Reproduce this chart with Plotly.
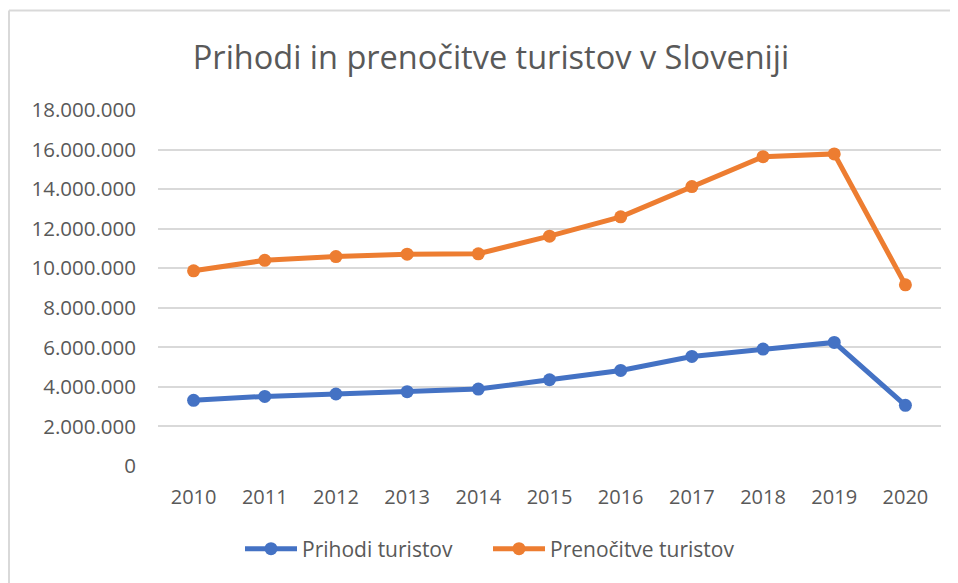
import plotly.graph_objects as go

years = ["2010", "2011", "2012", "2013", "2014", "2015", "2016", "2017", "2018", "2019", "2020"]
prihodi = [3320000, 3520000, 3640000, 3760000, 3890000, 4360000, 4830000, 5540000, 5910000, 6250000, 3070000]
prenocitve = [9870000, 10400000, 10590000, 10710000, 10730000, 11620000, 12600000, 14130000, 15640000, 15780000, 9160000]
y_ticks = [0, 2000000, 4000000, 6000000, 8000000, 10000000, 12000000, 14000000, 16000000, 18000000]
y_ticktext = [f"{v:,}".replace(",", ".") for v in y_ticks]

FONT = "Open Sans"
GRAY = "#595959"

fig = go.Figure()
fig.add_trace(go.Scatter(x=years, y=prihodi, name="Prihodi turistov", mode="lines+markers",
                         line=dict(color="#4472C4", width=5), marker=dict(size=13, color="#4472C4")))
fig.add_trace(go.Scatter(x=years, y=prenocitve, name="Prenočitve turistov", mode="lines+markers",
                         line=dict(color="#ED7D31", width=5), marker=dict(size=13, color="#ED7D31")))

OFF = 8  # page body margin
SW, SH = 958, 583
W, H = SW - OFF, SH - OFF
# plot area in screen coordinates
SL, SR, ST, SB = 158, 941, 110, 466
L, T = SL - OFF, ST - OFF
R = W - (SR - OFF)
B = H - (SB - OFF)
pw, ph = W - L - R, H - T - B

def px(xs):
    return (xs - SL) / pw

def py(ys):
    return (SB - ys) / ph

fig.update_layout(
    width=W, height=H,
    margin=dict(l=L, r=R, t=T, b=B),
    paper_bgcolor="white", plot_bgcolor="white",
    title=dict(text="Prihodi in prenočitve turistov v Sloveniji", x=(491 - OFF) / W, xref="container",
               y=1 - (58 - OFF) / H, yref="container", xanchor="center", yanchor="middle",
               font=dict(family=FONT, size=32.5, color=GRAY)),
    xaxis=dict(type="category", range=[-0.5, 10.5], showgrid=False, showline=False, zeroline=False,
               ticks="", tickfont=dict(family=FONT, size=20, color=GRAY), ticklabelstandoff=17),
    yaxis=dict(range=[0, 18000000], tickvals=y_ticks, ticktext=y_ticktext, showgrid=True,
               gridcolor="#d9d9d9", gridwidth=1.5, zeroline=False, showline=False, ticks="",
               tickfont=dict(family=FONT, size=20.5, color=GRAY), ticklabelstandoff=21),
    legend=dict(orientation="h", xref="container", yref="container", x=(240 - OFF) / W, y=1 - (549 - OFF) / H,
                xanchor="left", yanchor="middle", font=dict(family=FONT, size=21, color=GRAY),
                itemwidth=52, entrywidth=181),
    showlegend=True,
    shapes=[
        dict(type="line", xref="paper", yref="paper", x0=px(9), x1=px(SW + 20), y0=py(10.5), y1=py(10.5),
             line=dict(color="#d9d9d9", width=2)),
        dict(type="line", xref="paper", yref="paper", x0=px(9), x1=px(9), y0=py(10.5), y1=py(SH + 20),
             line=dict(color="#d9d9d9", width=2)),
    ],
)

fig.write_html("out.html")
